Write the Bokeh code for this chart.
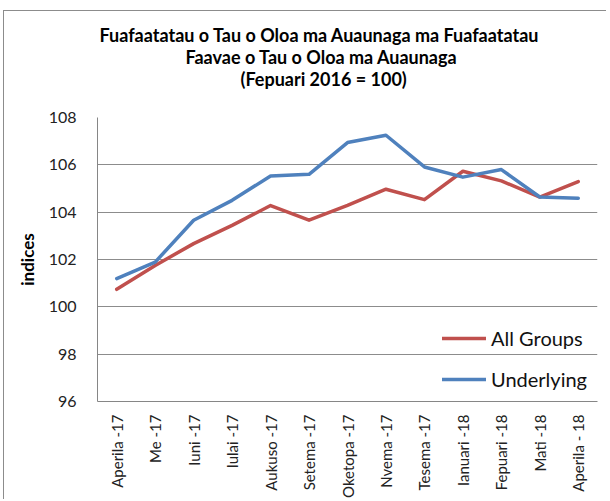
import math
from bokeh.plotting import figure
from bokeh.models import FactorRange, Range1d, Legend, LegendItem, FixedTicker, Title
from bokeh.embed import file_html
from bokeh.resources import INLINE

months = ["Aperila -17", "Me -17", "Iuni -17", "Iulai -17", "Aukuso -17", "Setema -17",
          "Oketopa -17", "Nvema -17", "Tesema -17", "Ianuari -18", "Fepuari -18",
          "Mati -18", "Aperila - 18"]
all_groups = [100.74, 101.75, 102.67, 103.44, 104.28, 103.66, 104.29, 104.97, 104.53,
              105.73, 105.32, 104.64, 105.29]
underlying = [101.19, 101.89, 103.66, 104.50, 105.53, 105.60, 106.94, 107.25, 105.91,
              105.48, 105.80, 104.64, 104.59]
y_ticks = [96, 98, 100, 102, 104, 106, 108]
title_lines = ["Fuafaatatau o Tau o Oloa ma Auaunaga ma Fuafaatatau",
               "Faavae o Tau o Oloa ma Auaunaga",
               "(Fepuari 2016 = 100)"]
y_label = "indices"

FONT = "Lato"
RED = "#C0504D"
BLUE = "#4F81BD"

p = figure(x_range=FactorRange(*months, range_padding=0), y_range=Range1d(96, 108),
           width=603, height=489, output_backend="svg", toolbar_location=None,
           min_border_left=93, min_border_right=10, min_border_top=106, min_border_bottom=99,
           styles={"border-left": "1px solid #8c8c8c", "border-top": "1px solid #8c8c8c",
                   "margin-left": "3px", "margin-top": "10px"})
p.title = None
p.outline_line_color = None
p.background_fill_color = "white"

r1 = p.line(months, all_groups, line_color=RED, line_width=3.5, line_join="round", line_cap="round")
r2 = p.line(months, underlying, line_color=BLUE, line_width=3.5, line_join="round", line_cap="round")

p.xgrid.grid_line_color = None
p.ygrid.grid_line_color = "#8c8c8c"
p.ygrid.grid_line_width = 1
p.yaxis.ticker = FixedTicker(ticks=y_ticks)

for ax in (p.xaxis[0], p.yaxis[0]):
    ax.axis_line_color = "#868686"
    ax.major_tick_line_color = None
    ax.minor_tick_line_color = None
    ax.major_label_text_font = FONT
    ax.major_label_text_color = "#222222"

p.yaxis.major_label_text_font_size = "16px"
p.yaxis.major_label_standoff = 15
p.yaxis.axis_label = y_label
p.yaxis.axis_label_text_font = FONT
p.yaxis.axis_label_text_font_style = "bold"
p.yaxis.axis_label_text_font_size = "17px"
p.yaxis.axis_label_text_color = "#000000"
p.yaxis.axis_label_standoff = 8
p.xaxis.major_label_text_font_size = "15px"
p.xaxis.major_label_orientation = math.pi / 2
p.xaxis.major_label_standoff = 7

legend = Legend(items=[LegendItem(label="All Groups", renderers=[r1]),
                       LegendItem(label="Underlying", renderers=[r2])],
                location=(335, 0), glyph_width=44, glyph_height=20, label_height=20,
                spacing=17, padding=10, label_standoff=5,
                label_text_font=FONT, label_text_font_size="20px", label_text_color="#111111",
                background_fill_alpha=0, border_line_alpha=0)
p.add_layout(legend, "center")

# spacer between the title block and the plot frame
p.add_layout(Title(text=" ", text_font_size="1px", standoff=26), "above")
offsets = [2, 88, 143]
for line, off in reversed(list(zip(title_lines, offsets))):
    p.add_layout(Title(text=line, align="left", offset=off, text_font=FONT,
                       text_font_style="bold", text_font_size="18px",
                       text_color="#000000", standoff=-2), "above")

open("out.html", "w").write(file_html(p, INLINE))
